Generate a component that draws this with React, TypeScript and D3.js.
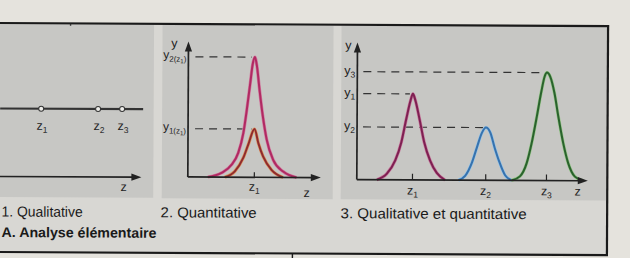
import React from "react";
import * as d3 from "d3";

const W = 630;
const H = 258;

// Panel 1 – qualitative: positions of the three components on the z line
const qualZ = [2.87, 6.85, 8.53];
const qualLabels = ["1", "2", "3"];

// Panel 2 – quantitative: two peaks at the same position z1
const quantZ1 = 5.0;
const quantTall: [number, number][] = [
  [1.5, 0], [2.53, 0.31], [3.29, 0.92], [3.78, 1.79], [4.16, 3.26], [4.41, 4.98],
  [4.66, 6.95], [4.83, 8.3], [5.0, 8.87], [5.16, 8.18], [5.36, 6.46], [5.62, 4.49],
  [5.92, 2.77], [6.41, 1.29], [7.17, 0.43], [8.17, 0],
];
const quantShort: [number, number][] = [
  [2.78, 0], [3.53, 0.43], [4.16, 1.42], [4.53, 2.4], [5.0, 3.56], [5.29, 2.52],
  [5.65, 1.54], [6.29, 0.55], [7.16, 0],
];
const quantLevels = [8.87, 3.56];
const quantLevelSubs = ["2", "1"];

// Panel 3 – qualitative and quantitative: three peaks
const mixZ = [2.41, 5.58, 8.21];
const mixY = [5.96, 3.65, 7.48];
const mixLabels = ["1", "2", "3"];
const mixPeak1: [number, number][] = [
  [0.87, 0], [1.3, 0.42], [1.66, 1.34], [1.92, 2.61], [2.13, 4.23], [2.31, 5.5],
  [2.41, 5.96], [2.52, 5.5], [2.7, 4.23], [2.91, 2.61], [3.17, 1.34], [3.46, 0.49], [3.82, 0],
];
const mixPeak2: [number, number][] = [
  [4.4, 0], [4.69, 0.3], [4.98, 1.22], [5.19, 2.26], [5.41, 3.3], [5.58, 3.65],
  [5.77, 3.3], [5.96, 2.26], [6.18, 1.22], [6.42, 0.35], [6.71, 0],
];
const mixPeak3: [number, number][] = [
  [6.7, 0], [7.06, 0.28], [7.35, 1.2], [7.56, 2.58], [7.78, 4.44], [7.97, 6.17],
  [8.11, 7.21], [8.21, 7.48], [8.35, 7.21], [8.54, 6.05], [8.71, 4.44], [8.93, 2.58],
  [9.15, 1.2], [9.44, 0.28], [9.8, 0],
];

const captions = ["1. Qualitative", "2. Quantitative", "3. Qualitative et quantitative"];
const title = "A. Analyse élémentaire";

const FONT = "'Liberation Sans', Arial, Helvetica, sans-serif";
const INK = "#222";

function HArrow({ x0, x1, y }: { x0: number; x1: number; y: number }) {
  return (
    <g>
      <line x1={x0} x2={x1 - 6} y1={y} y2={y} stroke={INK} strokeWidth={1.7} />
      <path d={`M${x1},${y} L${x1 - 10},${y - 3.6} L${x1 - 10},${y + 3.6} Z`} fill={INK} />
    </g>
  );
}
function VArrow({ x, y0, y1 }: { x: number; y0: number; y1: number }) {
  return (
    <g>
      <line x1={x} x2={x} y1={y0} y2={y1 + 6} stroke={INK} strokeWidth={1.7} />
      <path d={`M${x},${y1} L${x - 3.6},${y1 + 10} L${x + 3.6},${y1 + 10} Z`} fill={INK} />
    </g>
  );
}

function ZLabel({ x, y, sub }: { x: number; y: number; sub: string }) {
  return (
    <text x={x} y={y} textAnchor="middle" fontFamily={FONT} fill={INK}>
      <tspan fontSize={12.5}>z</tspan>
      <tspan fontSize={8.5} dy={3}>{sub}</tspan>
    </text>
  );
}

export default function App() {
  const p1x = d3.scaleLinear().domain([0, 10]).range([0, 143]);
  const p2x = d3.scaleLinear().domain([0, 10]).range([188, 321]);
  const p2y = d3.scaleLinear().domain([0, 10]).range([177.5, 42]);
  const p3x = d3.scaleLinear().domain([0, 10]).range([357, 588]);
  const p3y = d3.scaleLinear().domain([0, 10]).range([179.3, 35]);

  const line2 = d3
    .line<[number, number]>()
    .x((d) => p2x(d[0]))
    .y((d) => p2y(d[1]))
    .curve(d3.curveMonotoneX);
  const line3 = d3
    .line<[number, number]>()
    .x((d) => p3x(d[0]))
    .y((d) => p3y(d[1]))
    .curve(d3.curveMonotoneX);

  const mixPeaks = [mixPeak1, mixPeak2, mixPeak3];
  const mixCore = ["#7e2052", "#3772ad", "#2a622d"];
  const mixGlow = ["#c7799c", "#93c3e8", "#93c486"];

  const p1LineY = 110;
  const p1AxisY = 178;
  const capX = [2, 161, 341];
  const capW = [81, 96, 186];

  return (
    <svg width={W} height={H} style={{ position: "absolute", left: 0, top: 0 }}>
      <rect x={0} y={0} width={W} height={H} fill="#e5e3dd" />
      <g transform="rotate(0.29 300 140)">
        {/* frame interior */}
        <rect x={-5} y={25} width={612.5} height={228.5} fill="#d8d7d3" />
        {/* panels */}
        <rect x={-5} y={25.5} width={158.5} height={173} fill="#c7c7c4" />
        <rect x={162} y={25.5} width={171} height={173.5} fill="#c7c7c4" />
        <rect x={341} y={25.5} width={266.5} height={173.5} fill="#c7c7c4" />
        {/* frame lines */}
        <line x1={-5} x2={608.5} y1={24.5} y2={24.5} stroke="#1a1a1a" strokeWidth={2.2} />
        <line x1={607.5} x2={607.5} y1={23.5} y2={254.5} stroke="#1a1a1a" strokeWidth={2.2} />
        <line x1={-5} x2={608.5} y1={253.5} y2={253.5} stroke="#1a1a1a" strokeWidth={2.2} />
        <line x1={293} x2={293} y1={253} y2={262} stroke="#1a1a1a" strokeWidth={1.4} />
        <line x1={70} x2={70} y1={25} y2={27} stroke="#333" strokeWidth={1.4} />

        {/* Panel 1 */}
        <line x1={p1x(0)} x2={p1x(10)} y1={p1LineY} y2={p1LineY} stroke="#333" strokeWidth={2.2} />
        {qualZ.map((z, i) => (
          <g key={i}>
            <circle cx={p1x(z)} cy={p1LineY} r={2.5} fill="#eeeeea" stroke="#333" strokeWidth={1} />
            <ZLabel x={p1x(z) + 1} y={131} sub={qualLabels[i]} />
          </g>
        ))}
        <HArrow x0={p1x(0)} x1={p1x(9.9)} y={p1AxisY} />
        <text x={124} y={192} textAnchor="middle" fontFamily={FONT} fontSize={12.5} fill={INK}>z</text>

        {/* Panel 2 */}
        {quantLevels.map((v, i) => (
          <line key={i} x1={p2x(0) + 7} x2={p2x(quantZ1) - 3} y1={p2y(v)} y2={p2y(v)}
            stroke="#333" strokeWidth={1.2} strokeDasharray="8 6" />
        ))}
        <path d={line2(quantTall) || ""} fill="none" stroke="#d27a9f" strokeWidth={3.2} />
        <path d={line2(quantTall) || ""} fill="none" stroke="#b02a62" strokeWidth={2} />
        <path d={line2(quantShort) || ""} fill="none" stroke="#d9905c" strokeWidth={3.2} />
        <path d={line2(quantShort) || ""} fill="none" stroke="#8e2a2e" strokeWidth={1.9} />
        <VArrow x={p2x(0)} y0={p2y(0)} y1={p2y(10)} />
        <HArrow x0={p2x(0)} x1={p2x(10)} y={p2y(0)} />
        <line x1={p2x(quantZ1)} x2={p2x(quantZ1)} y1={p2y(0)} y2={p2y(0) - 5} stroke={INK} strokeWidth={1.2} />
        <text x={174} y={48} textAnchor="middle" fontFamily={FONT} fontSize={12.5} fill={INK}>y</text>
        {quantLevels.map((v, i) => (
          <text key={i} x={p2x(0) - 2} y={p2y(v) + 2} textAnchor="end" fontFamily={FONT} fill={INK}>
            <tspan fontSize={12}>y</tspan>
            <tspan fontSize={8} dy={3}>{quantLevelSubs[i]}(z</tspan>
            <tspan fontSize={6} dy={1.5}>1</tspan>
            <tspan fontSize={8} dy={-1.5}>)</tspan>
          </text>
        ))}
        <ZLabel x={p2x(quantZ1)} y={191} sub="1" />
        <text x={307} y={197} textAnchor="middle" fontFamily={FONT} fontSize={12.5} fill={INK}>z</text>

        {/* Panel 3 */}
        {mixY.map((v, i) => (
          <line key={i} x1={p3x(0) + 6} x2={p3x(mixZ[i]) - 3} y1={p3y(v)} y2={p3y(v)}
            stroke="#333" strokeWidth={1.2} strokeDasharray="8 6" />
        ))}
        {mixPeaks.map((pk, i) => (
          <g key={i}>
            <path d={line3(pk) || ""} fill="none" stroke={mixGlow[i]} strokeWidth={3.2} />
            <path d={line3(pk) || ""} fill="none" stroke={mixCore[i]} strokeWidth={2} />
          </g>
        ))}
        <VArrow x={p3x(0)} y0={p3y(0)} y1={p3y(9.5)} />
        <HArrow x0={p3x(0)} x1={p3x(10)} y={p3y(0)} />
        {mixZ.map((z, i) => (
          <g key={i}>
            <line x1={p3x(z)} x2={p3x(z)} y1={p3y(0)} y2={p3y(0) - 6} stroke={INK} strokeWidth={1.2} />
            <ZLabel x={p3x(z)} y={194} sub={mixLabels[i]} />
          </g>
        ))}
        {mixY.map((v, i) => (
          <text key={i} x={p3x(0) - 2} y={p3y(v) + 3} textAnchor="end" fontFamily={FONT} fill={INK}>
            <tspan fontSize={12.5}>y</tspan>
            <tspan fontSize={8.5} dy={3}>{mixLabels[i]}</tspan>
          </text>
        ))}
        <text x={348} y={49} textAnchor="middle" fontFamily={FONT} fontSize={12.5} fill={INK}>y</text>
        <text x={578} y={194} textAnchor="middle" fontFamily={FONT} fontSize={12.5} fill={INK}>z</text>

        {/* captions */}
        {captions.map((c, i) => (
          <text key={i} x={capX[i]} y={218} fontFamily={FONT} fontSize={14.5} fill="#1a1a1a"
            textLength={capW[i]} lengthAdjust="spacingAndGlyphs">{c}</text>
        ))}
        <text x={2} y={238.5} fontFamily={FONT} fontSize={14} fontWeight="bold" fill="#1a1a1a"
          textLength={155} lengthAdjust="spacingAndGlyphs">{title}</text>
      </g>
    </svg>
  );
}
